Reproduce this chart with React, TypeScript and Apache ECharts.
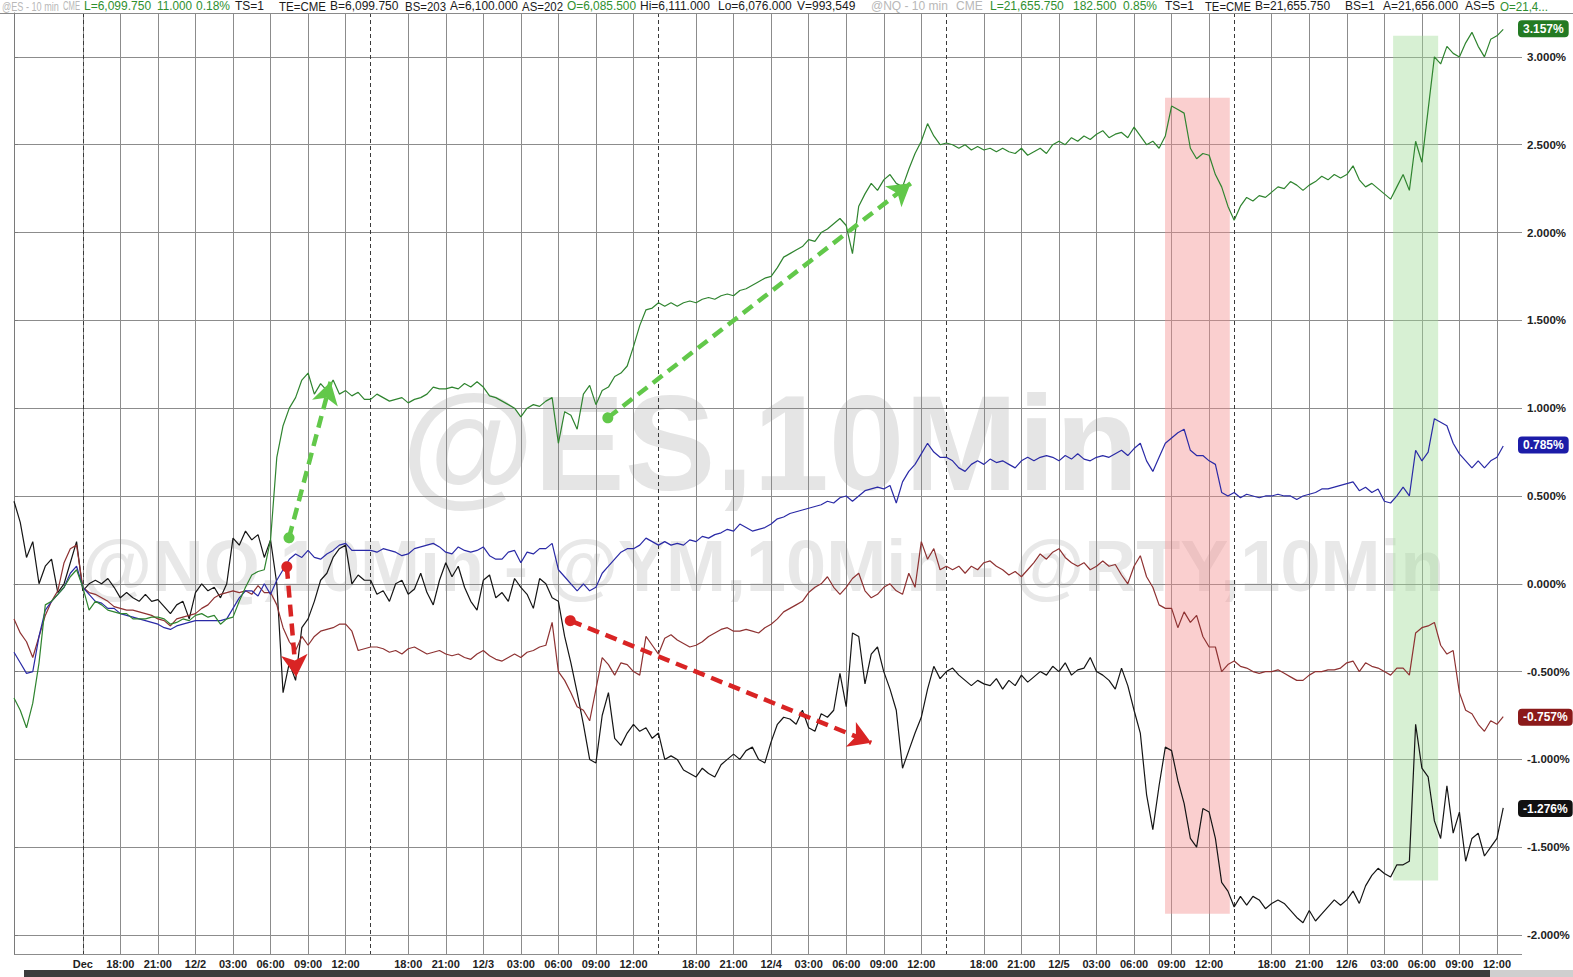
import React, { useEffect, useRef } from 'react';
import * as echarts from 'echarts';

const FONT = '"Liberation Sans", Arial, sans-serif';

// ---- time axis (30-minute steps, session breaks removed) ----
const FRIDAY_DATE = '11/29';
const SESSION_DAYS = [1, 2, 3, 4, 5];
const SESSION_STEPS = 46;
const LABEL_TIMES = ['03:00', '06:00', '09:00', '12:00', '18:00', '21:00'];
const MONTH_LABEL = { at: '12/1 15:00', text: 'Dec' };

function pad(n: number) { return n < 10 ? '0' + n : '' + n; }
function buildTimes(): string[] {
  const out: string[] = [];
  for (let k = 0; k <= 10; k++) { const m = 300 + 30 * k; out.push(`${FRIDAY_DATE} ${pad(Math.floor(m / 60))}:${pad(m % 60)}`); }
  for (const d of SESSION_DAYS) {
    for (let k = 0; k < SESSION_STEPS; k++) {
      const tot = 900 + 30 * k;
      const day = d + Math.floor(tot / 1440);
      const t = tot % 1440;
      out.push(`12/${day} ${pad(Math.floor(t / 60))}:${pad(t % 60)}`);
    }
  }
  out.push('12/6 14:00');
  return out;
}
const times = buildTimes();

function tickText(cat: string): string {
  const [date, time] = cat.split(' ');
  if (date === FRIDAY_DATE) return '';
  if (cat === MONTH_LABEL.at) return MONTH_LABEL.text;
  if (time === '00:00') return date;
  if (LABEL_TIMES.includes(time)) return time;
  return '';
}
function isSessionOpen(cat: string): boolean {
  const [date, time] = cat.split(' ');
  return date !== FRIDAY_DATE && time === '15:00';
}

// ---- series values (% change) ----
const NQ = [
  -0.65, -0.72, -0.82, -0.68, -0.45, -0.12, -0.1, -0.06, -0.02, 0.04, 0.08,
  -0.02, -0.15, -0.1, -0.12, -0.15, -0.16, -0.17, -0.17, -0.2, -0.2,
  -0.2, -0.19, -0.19, -0.2, -0.23, -0.22, -0.2, -0.21, -0.18, -0.17,
  -0.19, -0.18, -0.23, -0.2, -0.19, -0.1, -0.02, 0.05, 0.07, 0.08,
  0.25, 0.72, 0.9, 1.0, 1.06, 1.16, 1.2, 1.08, 1.14, 1.1,
  1.16, 1.08, 1.1, 1.07, 1.09, 1.05,
  1.05, 1.08, 1.06, 1.04, 1.05, 1.06, 1.03, 1.05, 1.06, 1.08,
  1.12, 1.11, 1.11, 1.12, 1.11, 1.14, 1.12, 1.15, 1.12, 1.07,
  1.06, 1.04, 1.02, 1.0, 0.95, 1.0, 1.02, 1.01, 1.04, 1.06,
  0.8, 0.98, 0.96, 0.88, 1.08, 1.13, 1.02, 1.1, 1.12, 1.18,
  1.2, 1.24, 1.35, 1.47, 1.56, 1.57, 1.6,
  1.58, 1.6, 1.58, 1.6, 1.61, 1.6, 1.62, 1.63, 1.62, 1.64,
  1.65, 1.64, 1.67, 1.68, 1.7, 1.72, 1.74, 1.75, 1.8, 1.86,
  1.88, 1.9, 1.92, 1.96, 1.95, 2.0, 2.02, 2.05, 2.08, 2.04,
  1.88, 2.15, 2.22, 2.28, 2.24, 2.3, 2.33, 2.28, 2.26, 2.36,
  2.45, 2.52, 2.62, 2.55, 2.5, 2.51,
  2.5, 2.48, 2.5, 2.47, 2.49, 2.47, 2.48, 2.46, 2.48, 2.46,
  2.45, 2.48, 2.44, 2.46, 2.48, 2.45, 2.5, 2.52, 2.5, 2.54,
  2.52, 2.55, 2.53, 2.56, 2.58, 2.54, 2.56, 2.57, 2.54, 2.6,
  2.55, 2.5, 2.52, 2.48, 2.55, 2.72, 2.7, 2.68, 2.48, 2.42,
  2.45, 2.44, 2.33, 2.26, 2.15, 2.07,
  2.15, 2.2, 2.18, 2.21, 2.2, 2.23, 2.26, 2.25, 2.29, 2.27,
  2.24, 2.27, 2.29, 2.32, 2.3, 2.33, 2.31, 2.33, 2.38, 2.3,
  2.26, 2.28, 2.25, 2.22, 2.19, 2.26, 2.33, 2.24, 2.52, 2.4,
  2.7, 3.0, 2.96, 3.06, 3.02, 3.0, 3.08, 3.14, 3.06, 3.0, 3.1, 3.12, 3.157,
];
const ES = [
  -0.39, -0.45, -0.51, -0.5, -0.3, -0.15, -0.1, -0.06, -0.02, 0.06, 0.1,
  -0.02, -0.06, -0.1, -0.11, -0.14, -0.14, -0.17, -0.18, -0.19, -0.2,
  -0.21, -0.22, -0.23, -0.25, -0.26, -0.24, -0.23, -0.22, -0.21, -0.21,
  -0.21, -0.21, -0.21, -0.2, -0.14, -0.08, -0.04, -0.04, -0.07, 0.0,
  -0.06, 0.02, 0.08, 0.14, 0.17, 0.15, 0.19, 0.15, 0.14, 0.17,
  0.19, 0.22, 0.23, 0.19, 0.19, 0.19,
  0.19, 0.18, 0.2, 0.19, 0.18, 0.16, 0.17, 0.2, 0.21, 0.22,
  0.23, 0.21, 0.18, 0.17, 0.21, 0.19, 0.18, 0.19, 0.21, 0.16,
  0.14, 0.14, 0.18, 0.19, 0.12, 0.18, 0.17, 0.2, 0.2, 0.23,
  0.08, 0.04, 0.0, -0.04, 0.0, -0.04, -0.02, 0.06, 0.1, 0.14,
  0.18, 0.2, 0.2, 0.22, 0.26, 0.24, 0.22,
  0.24, 0.22, 0.23, 0.22, 0.25, 0.24, 0.27, 0.26, 0.28, 0.29,
  0.31, 0.3, 0.34, 0.32, 0.3, 0.31, 0.32, 0.34, 0.37, 0.38,
  0.4, 0.41, 0.42, 0.43, 0.44, 0.45, 0.47, 0.46, 0.49, 0.5,
  0.47, 0.5, 0.53, 0.54, 0.55, 0.54, 0.56, 0.46, 0.58, 0.64,
  0.68, 0.74, 0.8, 0.75, 0.72, 0.72,
  0.7, 0.66, 0.64, 0.68, 0.7, 0.68, 0.71, 0.69, 0.7, 0.68,
  0.66, 0.7, 0.72, 0.7, 0.72, 0.73, 0.72, 0.7, 0.73, 0.71,
  0.74, 0.71, 0.7, 0.72, 0.73, 0.72, 0.74, 0.76, 0.73, 0.77,
  0.8, 0.7, 0.64, 0.72, 0.8, 0.83, 0.86, 0.88, 0.76, 0.73,
  0.73, 0.7, 0.68, 0.52, 0.5, 0.52,
  0.49, 0.51, 0.5, 0.49, 0.5, 0.5, 0.51, 0.5, 0.5, 0.48,
  0.5, 0.51, 0.52, 0.54, 0.54, 0.55, 0.56, 0.57, 0.58, 0.53,
  0.55, 0.52, 0.54, 0.47, 0.46, 0.5, 0.55, 0.5, 0.76, 0.7,
  0.75, 0.94, 0.92, 0.9, 0.8, 0.74, 0.7, 0.66, 0.7, 0.66, 0.7, 0.72, 0.785,
];
const YM = [
  -0.2, -0.28, -0.33, -0.42, -0.3, -0.18, -0.1, -0.04, 0.12, 0.2, 0.22,
  -0.02, -0.05, -0.06, -0.08, -0.1, -0.13, -0.14, -0.15, -0.15, -0.16,
  -0.17, -0.18, -0.2, -0.21, -0.24, -0.2, -0.19, -0.18, -0.17, -0.14,
  -0.12, -0.08, -0.06, -0.05, -0.04, -0.05, -0.04, -0.06, -0.01, -0.05,
  -0.05, -0.12, -0.25, -0.33, -0.38, -0.3, -0.35, -0.3, -0.27, -0.26,
  -0.25, -0.23, -0.23, -0.27, -0.38, -0.37,
  -0.36, -0.36, -0.37, -0.39, -0.38, -0.4, -0.37, -0.36, -0.38, -0.4,
  -0.39, -0.38, -0.4, -0.41, -0.4, -0.42, -0.43, -0.4, -0.38, -0.41,
  -0.43, -0.44, -0.42, -0.4, -0.42, -0.39, -0.38, -0.36, -0.35, -0.22,
  -0.5, -0.55, -0.62, -0.7, -0.72, -0.78, -0.6, -0.42, -0.46, -0.52,
  -0.45, -0.46, -0.5, -0.52, -0.3, -0.35, -0.4,
  -0.31, -0.29, -0.32, -0.34, -0.36, -0.35, -0.33, -0.3, -0.28, -0.26,
  -0.25, -0.27, -0.27, -0.26, -0.27, -0.28, -0.25, -0.23, -0.2, -0.16,
  -0.14, -0.12, -0.1, -0.05, -0.02, 0.0, 0.04, -0.02, -0.06, -0.02,
  0.03, 0.06, -0.04, -0.08, -0.06, -0.02, 0.0, -0.04, -0.06, 0.06,
  -0.02, 0.24, 0.14, 0.2, 0.08, 0.1,
  0.08, 0.1, 0.06, 0.1, 0.08, 0.12, 0.13, 0.1, 0.08, 0.05,
  0.07, 0.04, 0.08, 0.12, 0.17, 0.14, 0.18, 0.2, 0.15, 0.12,
  0.1, 0.12, 0.08, 0.1, 0.13, 0.1, 0.11, 0.05, 0.0, 0.1,
  0.16, 0.04, -0.02, -0.12, -0.14, -0.14, -0.25, -0.16, -0.22, -0.18,
  -0.3, -0.36, -0.36, -0.5, -0.46, -0.44,
  -0.47, -0.48, -0.5, -0.51, -0.5, -0.5, -0.49, -0.51, -0.53, -0.55,
  -0.55, -0.52, -0.5, -0.5, -0.49, -0.49, -0.48, -0.45, -0.44, -0.5,
  -0.45, -0.47, -0.48, -0.5, -0.52, -0.48, -0.48, -0.52, -0.28, -0.25,
  -0.24, -0.22, -0.35, -0.4, -0.38, -0.62, -0.72, -0.74, -0.8, -0.84, -0.78, -0.8, -0.757,
];
const RTY = [
  0.47, 0.35, 0.15, 0.24, 0.0, 0.1, 0.14, -0.05, 0.0, 0.12, 0.24,
  -0.04, 0.0, 0.02, 0.0, 0.03, -0.02, -0.08, -0.05, -0.08, -0.1,
  -0.06, -0.1, -0.09, -0.13, -0.17, -0.12, -0.1, -0.2, -0.05, 0.0,
  -0.04, -0.02, -0.08, 0.0, 0.26, 0.22, 0.3, 0.25, 0.28, 0.15,
  0.25, 0.0, -0.62, -0.45, -0.55, -0.25, -0.2, -0.1, 0.02, 0.06,
  0.15, 0.2, 0.22, 0.0, 0.05, 0.02,
  0.02, -0.06, -0.04, -0.1, 0.0, 0.02, -0.06, -0.03, 0.06, -0.05,
  -0.12, 0.02, 0.12, 0.04, 0.1, -0.02, -0.1, -0.15, 0.02, 0.05,
  -0.08, -0.05, -0.1, 0.03, -0.02, -0.06, -0.14, 0.03, 0.0, -0.08,
  -0.1, -0.3, -0.45, -0.62, -0.8, -1.0, -1.02, -0.75, -0.62, -0.88,
  -0.92, -0.85, -0.8, -0.84, -0.82, -0.88, -0.85,
  -1.0, -0.98, -1.0, -1.06, -1.08, -1.1, -1.05, -1.08, -1.1, -1.03,
  -1.0, -0.97, -1.0, -0.95, -0.93, -1.0, -1.02, -0.9, -0.8, -0.76,
  -0.77, -0.8, -0.72, -0.82, -0.84, -0.74, -0.76, -0.72, -0.51, -0.7,
  -0.28, -0.3, -0.57, -0.4, -0.36, -0.5, -0.6, -0.72, -1.05, -0.95,
  -0.85, -0.76, -0.6, -0.47, -0.54, -0.5,
  -0.48, -0.52, -0.55, -0.58, -0.55, -0.57, -0.58, -0.54, -0.6, -0.55,
  -0.58, -0.52, -0.56, -0.53, -0.5, -0.52, -0.47, -0.5, -0.45, -0.52,
  -0.49, -0.48, -0.42, -0.5, -0.52, -0.55, -0.6, -0.48, -0.58, -0.72,
  -0.85, -1.2, -1.4, -1.15, -0.93, -0.95, -1.12, -1.25, -1.45, -1.5,
  -1.28, -1.3, -1.45, -1.7, -1.75, -1.84,
  -1.78, -1.83, -1.78, -1.8, -1.85, -1.82, -1.8, -1.82, -1.86, -1.9,
  -1.93, -1.86, -1.92, -1.88, -1.84, -1.8, -1.83, -1.8, -1.75, -1.82,
  -1.72, -1.66, -1.62, -1.65, -1.67, -1.6, -1.6, -1.58, -0.8, -1.05,
  -1.1, -1.35, -1.45, -1.15, -1.42, -1.3, -1.58, -1.45, -1.42, -1.55, -1.5, -1.45, -1.276,
];

// ---- annotations, in data space [time index, % value] ----
const SHADE_RED = [[183.95, 2.768], [194.3, -1.879]];
const SHADE_GREEN = [[220.4, 3.12], [227.6, -1.69]];
const GREEN_ARROWS = [
  [[43.95, 0.262], [50.6, 1.15]],
  [[94.9, 0.945], [143.3, 2.28]],
];
const RED_ARROWS = [
  [[43.6, 0.097], [45.1, -0.53]],
  [[88.9, -0.21], [137.0, -0.905]],
];

const HEADER = [
  { t: '@ES - 10 min', x: 2, c: '#b8b8b8' },
  { t: 'CME', x: 63, c: '#b8b8b8' },
  { t: 'L=6,099.750', x: 84, c: '#2f8f2f' },
  { t: '11.000', x: 157, c: '#2f8f2f' },
  { t: '0.18%', x: 196, c: '#2f8f2f' },
  { t: 'TS=1', x: 235, c: '#1a1a1a' },
  { t: 'TE=CME', x: 279, c: '#1a1a1a' },
  { t: 'B=6,099.750', x: 330, c: '#1a1a1a' },
  { t: 'BS=203', x: 405, c: '#1a1a1a' },
  { t: 'A=6,100.000', x: 450, c: '#1a1a1a' },
  { t: 'AS=202', x: 522, c: '#1a1a1a' },
  { t: 'O=6,085.500', x: 567, c: '#2f8f2f' },
  { t: 'Hi=6,111.000', x: 640, c: '#1a1a1a' },
  { t: 'Lo=6,076.000', x: 718, c: '#1a1a1a' },
  { t: 'V=993,549', x: 797, c: '#1a1a1a' },
  { t: '@NQ - 10 min', x: 871, c: '#b8b8b8' },
  { t: 'CME', x: 956, c: '#b8b8b8' },
  { t: 'L=21,655.750', x: 990, c: '#2f8f2f' },
  { t: '182.500', x: 1073, c: '#2f8f2f' },
  { t: '0.85%', x: 1123, c: '#2f8f2f' },
  { t: 'TS=1', x: 1165, c: '#1a1a1a' },
  { t: 'TE=CME', x: 1205, c: '#1a1a1a' },
  { t: 'B=21,655.750', x: 1255, c: '#1a1a1a' },
  { t: 'BS=1', x: 1345, c: '#1a1a1a' },
  { t: 'A=21,656.000', x: 1383, c: '#1a1a1a' },
  { t: 'AS=5', x: 1465, c: '#1a1a1a' },
  { t: 'O=21,4...', x: 1500, c: '#2f8f2f' },
];
const HEADER_END = 1552;

function makeMeasure() {
  const ctx = document.createElement('canvas').getContext('2d');
  return (text: string, font: string) => {
    if (!ctx) return text.length * 6.5;
    ctx.font = font;
    return ctx.measureText(text).width;
  };
}

function badge(vals: number[], color: string) {
  const last = vals[vals.length - 1];
  return {
    silent: true,
    symbol: 'none',
    lineStyle: { color: 'rgba(0,0,0,0)', width: 1 },
    label: {
      show: true, position: 'end', distance: -4,
      formatter: last.toFixed(3) + '%',
      color: '#ffffff', backgroundColor: color, padding: [3, 5, 2, 5], borderRadius: 4,
      fontSize: 12, fontWeight: 'bold', fontFamily: FONT,
    },
    emphasis: { disabled: true },
    data: [{ yAxis: last }],
  };
}

function arrows(list: number[][][], color: string) {
  return list.map(([a, b]) => [
    { coord: a, symbol: 'circle', symbolSize: 11, lineStyle: { color, width: 4.5, type: [12, 7] }, itemStyle: { color } },
    { coord: b, symbol: 'arrow', symbolSize: [20, 22], itemStyle: { color } },
  ]);
}

export default function App() {
  const ref = useRef<HTMLDivElement>(null);
  useEffect(() => {
    if (!ref.current) return;
    const chart = echarts.init(ref.current, undefined, { renderer: 'svg' });
    const measure = makeMeasure();
    const headerFont = `12px ${FONT}`;
    const headerEls = HEADER.map((h, i) => {
      const next = i + 1 < HEADER.length ? HEADER[i + 1].x : HEADER_END;
      const w = measure(h.t, headerFont);
      const sx = Math.min(1, (next - h.x - 4) / w);
      return {
        type: 'text', x: h.x, y: 6, scaleX: sx, silent: true,
        style: { text: h.t, font: headerFont, fill: h.c, textAlign: 'left', textVerticalAlign: 'middle' },
      };
    });
    const lineSeries = (name: string, data: number[], color: string, badgeColor: string) => ({
      name, type: 'line', data, showSymbol: false, symbol: 'none',
      lineStyle: { color, width: 1.2 }, itemStyle: { color },
      emphasis: { disabled: true }, silent: true,
      markLine: badge(data, badgeColor),
    });
    const option: any = {
      animation: false,
      backgroundColor: '#ffffff',
      grid: { left: 14, right: 51, top: 13, bottom: 23, containLabel: false, outerBoundsMode: 'none' },
      xAxis: [
        {
          type: 'category', data: times, boundaryGap: false,
          axisLine: { show: true, lineStyle: { color: '#8a8a8a' } },
          axisTick: { show: false },
          axisLabel: {
            interval: (_i: number, v: string) => tickText(v) !== '',
            formatter: (v: string) => tickText(v),
            color: '#222', fontSize: 11, fontWeight: 'bold', fontFamily: FONT, margin: 4,
          },
          splitLine: {
            show: true,
            interval: (_i: number, v: string) => tickText(v) !== '',
            lineStyle: { color: '#8c8c8c', width: 1 },
          },
        },
        {
          type: 'category', data: times, boundaryGap: false, position: 'top',
          axisLine: { show: false }, axisTick: { show: false }, axisLabel: { show: false },
          splitLine: {
            show: true,
            interval: (_i: number, v: string) => isSessionOpen(v),
            lineStyle: { color: '#3a3a3a', width: 1, type: [4, 3] },
          },
        },
        { type: 'value', min: 0, max: times.length - 1, show: false },
      ],
      yAxis: {
        type: 'value', position: 'right', min: -2.108, max: 3.25,
        minInterval: 0.5, maxInterval: 0.5,
        axisLine: { show: true, lineStyle: { color: '#7a7a7a' } },
        axisTick: { show: true, length: 4, lineStyle: { color: '#7a7a7a' } },
        axisLabel: {
          formatter: (v: number) => (Math.abs(v * 2 - Math.round(v * 2)) < 1e-6 ? v.toFixed(3) + '%' : ''),
          color: '#222', fontSize: 11.5, fontWeight: 'bold', fontFamily: FONT, margin: 5,
          showMinLabel: false, showMaxLabel: false,
        },
        splitLine: { show: true, lineStyle: { color: '#8c8c8c', width: 1 } },
      },
      graphic: [
        {
          type: 'text', x: 770, y: 443, z: -5, silent: true,
          style: { text: '@ES,10Min', font: `bold 136px ${FONT}`, fill: '#e5e5e5', textAlign: 'center', textVerticalAlign: 'middle' },
        },
        {
          type: 'text', x: 763, y: 566, z: -5, silent: true,
          style: { text: '@NQ,10Min - @YM,10Min - @RTY,10Min', font: `bold 72px ${FONT}`, fill: '#e8e8e8', textAlign: 'center', textVerticalAlign: 'middle' },
        },
        { type: 'line', z: 10, silent: true, shape: { x1: 0, y1: 13.5, x2: 1573, y2: 13.5 }, style: { stroke: '#8a8a8a', lineWidth: 1 } },
        { type: 'rect', silent: true, shape: { x: 24, y: 970, width: 1466, height: 7 }, style: { fill: '#3c3c3c' } },
        { type: 'rect', silent: true, shape: { x: 1490, y: 970, width: 83, height: 7 }, style: { fill: '#cfcfcf' } },
        ...headerEls,
      ],
      series: [
        {
          name: 'shade', type: 'line', xAxisIndex: 2, data: [[0, 0]], showSymbol: false, symbol: 'none',
          lineStyle: { opacity: 0 }, silent: true,
          markArea: {
            silent: true,
            data: [
              [{ coord: SHADE_RED[0], itemStyle: { color: 'rgba(242, 140, 140, 0.42)' } }, { coord: SHADE_RED[1] }],
              [{ coord: SHADE_GREEN[0], itemStyle: { color: 'rgba(160, 220, 150, 0.42)' } }, { coord: SHADE_GREEN[1] }],
            ],
          },
        },
        lineSeries('RTY', RTY, '#151515', '#111111'),
        lineSeries('YM', YM, '#8e3232', '#8b1a1a'),
        lineSeries('ES', ES, '#2a2aa6', '#1c1ca8'),
        lineSeries('NQ', NQ, '#2f842f', '#237a23'),
        {
          name: 'arrows', type: 'line', xAxisIndex: 2, data: [[0, 0]], showSymbol: false, symbol: 'none',
          lineStyle: { opacity: 0 }, silent: true,
          markLine: {
            silent: true,
            label: { show: false },
            emphasis: { disabled: true },
            data: [...arrows(GREEN_ARROWS, '#62c84a'), ...arrows(RED_ARROWS, '#d92424')],
          },
        },
      ],
    };
    chart.setOption(option);
    return () => chart.dispose();
  }, []);
  return <div ref={ref} style={{ position: 'absolute', left: 0, top: 0, width: 1573, height: 977 }} />;
}
